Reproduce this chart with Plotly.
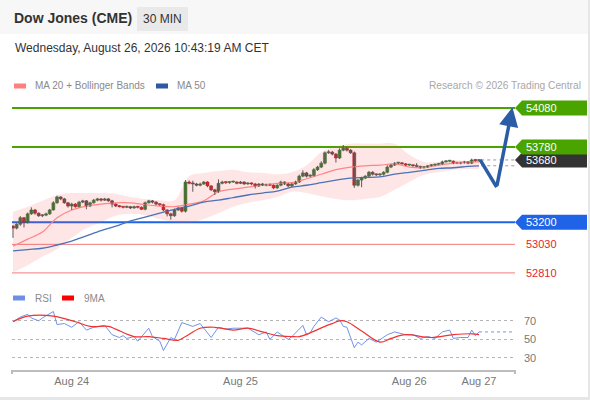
import plotly.graph_objects as go

W, H = 590, 400
FONT = "Liberation Sans, Arial, sans-serif"

# ─── Data ─────────────────────────────────────────────────────────────────────
# 30-minute candles, index 0 = first visible bar
CLOSE = [
    53155, 53185, 53235, 53200, 53265, 53295, 53270, 53250, 53255, 53265,
    53295, 53350, 53395, 53380, 53350, 53325, 53340, 53320, 53355, 53365,
    53325, 53350, 53370, 53380, 53370, 53380, 53365, 53340, 53325, 53320,
    53315, 53320, 53310, 53320, 53315, 53300, 53350, 53365, 53355, 53340,
    53335, 53295, 53265, 53250, 53295, 53310, 53285, 53510, 53500, 53495,
    53485, 53495, 53510, 53480, 53450, 53435, 53500, 53510, 53505, 53510,
    53510, 53500, 53510, 53495, 53500, 53495, 53480, 53495, 53485, 53490,
    53485, 53465, 53485, 53510, 53495, 53480, 53495, 53510, 53555, 53580,
    53555, 53560, 53605, 53625, 53655, 53735, 53740, 53725, 53695, 53755,
    53770, 53755, 53735, 53485, 53525, 53540, 53555, 53585, 53570, 53565,
    53570, 53585, 53625, 53640, 53655, 53655, 53650, 53640, 53640, 53635,
    53630, 53620, 53625, 53635, 53640, 53645, 53650, 53665, 53670, 53670,
    53655, 53655, 53658, 53665, 53655, 53680, 53675, 53680,
]
FIRST_OPEN = 53170
UP_WICK = [
    10, 8, 12, 6, 10, 20, 8, 6, 8, 10,
    8, 12, 10, 6, 8, 6, 10, 8, 10, 8,
    6, 8, 10, 8, 6, 8, 6, 8, 6, 8,
    6, 8, 6, 8, 6, 8, 10, 8, 6, 8,
    6, 8, 6, 8, 10, 8, 6, 15, 12, 20,
    8, 10, 8, 6, 6, 8, 30, 10, 8, 6,
    8, 6, 8, 6, 8, 6, 8, 6, 8, 6,
    8, 6, 8, 10, 6, 8, 8, 10, 12, 20,
    8, 10, 12, 10, 15, 10, 15, 10, 8, 15,
    25, 10, 8, 10, 8, 10, 8, 10, 8, 6,
    8, 8, 15, 10, 8, 6, 8, 6, 8, 6,
    20, 6, 8, 6, 8, 6, 8, 10, 10, 6,
    6, 8, 6, 8, 6, 10, 8, 6,
]
DN_WICK = [
    75, 10, 12, 40, 10, 8, 12, 8, 10, 8,
    8, 6, 8, 10, 8, 12, 30, 8, 6, 8,
    25, 8, 6, 8, 10, 6, 8, 25, 8, 6,
    8, 6, 8, 6, 8, 6, 8, 6, 10, 8,
    8, 10, 20, 30, 8, 8, 10, 10, 8, 60,
    8, 8, 8, 10, 10, 25, 8, 8, 10, 8,
    6, 8, 6, 8, 6, 10, 20, 8, 6, 8,
    6, 10, 8, 8, 8, 10, 8, 6, 8, 8,
    10, 8, 8, 10, 8, 10, 8, 10, 35, 8,
    8, 10, 8, 20, 10, 55, 8, 8, 10, 8,
    8, 10, 8, 8, 6, 8, 6, 8, 6, 8,
    6, 8, 6, 8, 6, 8, 6, 8, 6, 8,
    8, 6, 8, 6, 8, 6, 8, 6,
]

# indicators, sampled every 4 bars
IND_IDX = list(range(0, 128, 4)) + [127]
MA20 = [53015, 53070, 53125, 53235, 53295, 53325, 53340, 53350, 53350, 53335,
        53325, 53320, 53340, 53365, 53435, 53455, 53470, 53485, 53500, 53505,
        53535, 53570, 53605, 53625, 53635, 53640, 53650, 53625, 53620, 53640,
        53655, 53665, 53665]
BB_UP = [53280, 53320, 53365, 53410, 53425, 53425, 53425, 53420, 53395, 53380,
         53370, 53370, 53555, 53580, 53595, 53605, 53585, 53580, 53570, 53585,
         53640, 53740, 53785, 53805, 53805, 53805, 53805, 53720, 53665, 53665,
         53680, 53670, 53670]
BB_LO = [52815, 52870, 52935, 52995, 53080, 53155, 53200, 53250, 53265, 53255,
         53225, 53200, 53195, 53225, 53270, 53320, 53350, 53370, 53395, 53435,
         53425, 53400, 53380, 53370, 53380, 53395, 53450, 53510, 53565, 53585,
         53605, 53610, 53610]
MA50 = [52980, 52990, 53000, 53025, 53055, 53095, 53135, 53170, 53210, 53240,
        53270, 53300, 53325, 53355, 53370, 53390, 53410, 53425, 53440, 53470,
        53485, 53505, 53525, 53540, 53545, 53550, 53570, 53585, 53600, 53615,
        53620, 53630, 53635]

RSI_IDX = [0, 2, 4, 5, 7, 8, 11, 12, 14, 16, 18, 20, 22, 25, 27, 29, 30, 31, 33, 34,
           37, 38, 40, 41, 43, 44, 46, 49, 51, 54, 56, 58, 60, 64, 67, 69, 70, 72, 75, 76,
           79, 80, 81, 82, 84, 86, 88, 89, 90, 91, 93, 94, 95, 97, 98, 99, 102, 104, 107, 109,
           111, 113, 115, 117, 119, 120, 122, 124, 125, 126, 127]
RSI = [69, 74, 77, 73, 70, 73, 80, 66, 67, 63, 69, 60, 63, 65, 55, 52, 54, 51, 53, 48,
       62, 53, 48, 38, 52, 50, 68, 64, 67, 52, 63, 61, 62, 62, 55, 58, 50, 58, 50, 53,
       65, 55, 57, 64, 74, 69, 73, 71, 64, 63, 41, 47, 44, 51, 49, 47, 55, 58, 55, 55,
       51, 53, 51, 58, 60, 51, 52, 52, 60, 54, 58]
RSI_MA_IDX = [0, 4, 11, 17, 21, 26, 28, 33, 37, 41, 45, 47, 51, 55, 60, 64, 68, 72, 76, 78,
              81, 85, 87, 89, 91, 95, 100, 103, 107, 114, 120, 125, 127]
RSI_MA = [69, 75, 75, 69, 64, 64, 61, 53, 53, 51, 49, 53, 62, 63, 60, 62, 58, 54, 53, 53,
          57, 64, 67, 70, 69, 59, 47, 51, 55, 52, 55, 56, 55]

# key levels shown on the right
RESISTANCE = [54080, 53780]
LAST_PRICE = 53680
PIVOT = 53200
SUPPORT = [53030, 52810]

# forecast path (bar index, price)
FC_IDX = [127.3, 131.8, 136.1]
FC_PRICE = [53680, 53470, 54085]

DATE_TICKS = [16, 62, 108, 127]
DATE_LABELS = ["Aug 24", "Aug 25", "Aug 26", "Aug 27"]
RSI_TICKS = [30, 50, 70]

# ─── Helpers ──────────────────────────────────────────────────────────────────
def fx(px):
    return px / W


def fy(px):
    return 1 - px / H


GREEN_LVL = "#4aa400"
BLUE_LVL = "#1f63e6"
RED_LVL = "#f27a7a"
RED_TXT = "#e5262b"
UP_COL, UP_EDGE = "#35873a", "#1f5a22"
DOWN_COL, DOWN_EDGE = "#d8141f", "#8e0d12"

opens = [FIRST_OPEN] + CLOSE[:-1]
highs = [max(o, c) + u for o, c, u in zip(opens, CLOSE, UP_WICK)]
lows = [min(o, c) - d for o, c, d in zip(opens, CLOSE, DN_WICK)]
bars = list(range(len(CLOSE)))
is_up = [c >= o for o, c in zip(opens, CLOSE)]

fig = go.Figure()

# Bollinger band fill
fig.add_trace(go.Scatter(x=IND_IDX, y=BB_UP, mode="lines", line=dict(width=0, shape="spline"),
                         hoverinfo="skip", showlegend=False))
fig.add_trace(go.Scatter(x=IND_IDX, y=BB_LO, mode="lines", line=dict(width=0, shape="spline"),
                         fill="tonexty", fillcolor="rgba(255,80,80,0.14)",
                         hoverinfo="skip", showlegend=False))
fig.add_trace(go.Scatter(x=IND_IDX, y=MA20, mode="lines",
                         line=dict(color="#ff8585", width=1.2, shape="spline"),
                         hoverinfo="skip", showlegend=False))
fig.add_trace(go.Scatter(x=IND_IDX, y=MA50, mode="lines",
                         line=dict(color="#4a72b8", width=1.3, shape="spline"),
                         hoverinfo="skip", showlegend=False))

# candles: wicks as segments, bodies as floating bars
wx, wy = [], []
for i, lo, hi in zip(bars, lows, highs):
    wx += [i, i, None]
    wy += [lo, hi, None]
fig.add_trace(go.Scatter(x=wx, y=wy, mode="lines", line=dict(color="#5a5a5a", width=1),
                         hoverinfo="skip", showlegend=False))
fig.add_trace(go.Bar(
    x=bars,
    y=[max(abs(c - o), 8) for o, c in zip(opens, CLOSE)],
    base=[min(o, c) for o, c in zip(opens, CLOSE)],
    width=0.8,
    marker=dict(color=[UP_COL if u else DOWN_COL for u in is_up],
                line=dict(color=[UP_EDGE if u else DOWN_EDGE for u in is_up], width=0.5)),
    hoverinfo="skip", showlegend=False,
))

# dotted extensions of last price and MA 50
fig.add_trace(go.Scatter(x=[bars[-1] + 0.6, 136.8], y=[CLOSE[-1], CLOSE[-1]], mode="lines",
                         line=dict(color="#9a9a9a", width=1, dash="dot"),
                         hoverinfo="skip", showlegend=False))
fig.add_trace(go.Scatter(x=[bars[-1] + 0.6, 136.8], y=[MA50[-1], MA50[-1]], mode="lines",
                         line=dict(color="#9a9a9a", width=1, dash="dot"),
                         hoverinfo="skip", showlegend=False))

# forecast arrow
fig.add_trace(go.Scatter(x=FC_IDX[:2], y=FC_PRICE[:2], mode="lines",
                         line=dict(color="#2b5da6", width=3.5),
                         hoverinfo="skip", showlegend=False))

# RSI panel
fig.add_trace(go.Scatter(x=RSI_IDX, y=RSI, mode="lines", xaxis="x2", yaxis="y2",
                         line=dict(color="#7393e8", width=1),
                         hoverinfo="skip", showlegend=False))
fig.add_trace(go.Scatter(x=RSI_MA_IDX, y=RSI_MA, mode="lines", xaxis="x2", yaxis="y2",
                         line=dict(color="#f03232", width=1.2, shape="spline"),
                         hoverinfo="skip", showlegend=False))
fig.add_trace(go.Scatter(x=[RSI_IDX[-1], 136.8], y=[RSI[-1], RSI[-1]], mode="lines",
                         xaxis="x2", yaxis="y2",
                         line=dict(color="#7393e8", width=1, dash="dot"),
                         hoverinfo="skip", showlegend=False))

shapes = []
annotations = []

# header strip and page frame
shapes.append(dict(type="rect", xref="paper", yref="paper", x0=0, x1=1, y0=fy(34), y1=1,
                   fillcolor="#f7f7f7", line_width=0, layer="below"))
shapes.append(dict(type="line", xref="paper", yref="paper", x0=fx(589), x1=fx(589),
                   y0=0, y1=1, line=dict(color="#e6e6e6", width=2)))
shapes.append(dict(type="line", xref="paper", yref="paper", x0=0, x1=1,
                   y0=fy(398.5), y1=fy(398.5), line=dict(color="#e6e6e6", width=3)))
shapes.append(dict(type="rect", xref="paper", yref="paper", x0=fx(137), x1=fx(188),
                   y0=fy(31), y1=fy(7), fillcolor="#e9e9e9", line_width=0, layer="below"))
annotations.append(dict(xref="paper", yref="paper", x=fx(12), y=fy(18), xanchor="left",
                        yanchor="middle", showarrow=False, text="<b>Dow Jones (CME)</b>",
                        font=dict(size=14, color="#333333")))
annotations.append(dict(xref="paper", yref="paper", x=fx(162.5), y=fy(19), xanchor="center",
                        yanchor="middle", showarrow=False, text="30 MIN",
                        font=dict(size=12, color="#333333")))
annotations.append(dict(xref="paper", yref="paper", x=fx(13), y=fy(48), xanchor="left",
                        yanchor="middle", showarrow=False,
                        text="Wednesday, August 26, 2026 10:43:19 AM CET",
                        font=dict(size=12, color="#333333")))

# legends
for x0, col in [(14, "#ff8080"), (156, "#2d5aa0")]:
    shapes.append(dict(type="rect", xref="paper", yref="paper", x0=fx(x0), x1=fx(x0 + 12),
                       y0=fy(88.5), y1=fy(83.5), fillcolor=col, line_width=0))
for x0, txt in [(33, "MA 20 + Bollinger Bands"), (175, "MA 50")]:
    annotations.append(dict(xref="paper", yref="paper", x=fx(x0), y=fy(86), xanchor="left",
                            yanchor="middle", showarrow=False, text=txt,
                            font=dict(size=10, color="#8a8a8a")))
annotations.append(dict(xref="paper", yref="paper", x=fx(583), y=fy(86), xanchor="right",
                        yanchor="middle", showarrow=False,
                        text="Research © 2026 Trading Central",
                        font=dict(size=10.2, color="#a8a8a8")))
for x0, col in [(13, "#6d8fe6"), (62, "#ff0000")]:
    shapes.append(dict(type="rect", xref="paper", yref="paper", x0=fx(x0), x1=fx(x0 + 12),
                       y0=fy(300.5), y1=fy(295.5), fillcolor=col, line_width=0))
for x0, txt in [(33, "RSI"), (82, "9MA")]:
    annotations.append(dict(xref="paper", yref="paper", x=fx(x0), y=fy(298), xanchor="left",
                            yanchor="middle", showarrow=False, text=txt,
                            font=dict(size=10, color="#8a8a8a")))

# level lines and tags
def level_line(level, color, width):
    shapes.append(dict(type="line", xref="paper", yref="y", x0=fx(12), x1=fx(515),
                       y0=level, y1=level, line=dict(color=color, width=width), layer="below"))


def tag(level, color):
    half = 58
    path = (f"M {fx(515)},{level} L {fx(522)},{level + half} L {fx(587)},{level + half} "
            f"L {fx(587)},{level - half} L {fx(522)},{level - half} Z")
    shapes.append(dict(type="path", xref="paper", yref="y", path=path, fillcolor=color,
                       line_width=0, layer="above"))
    annotations.append(dict(xref="paper", yref="y", x=fx(524), y=level, xanchor="left",
                            yanchor="middle", showarrow=False, text=str(level),
                            font=dict(size=11, color="white")))


for lv in RESISTANCE:
    level_line(lv, GREEN_LVL, 2)
level_line(PIVOT, BLUE_LVL, 2)
for lv in SUPPORT:
    level_line(lv, RED_LVL, 1)
    annotations.append(dict(xref="paper", yref="y", x=fx(524), y=lv, xanchor="left",
                            yanchor="middle", showarrow=False, text=str(lv),
                            font=dict(size=11, color=RED_TXT)))

tag(LAST_PRICE, "#333333")
for lv in RESISTANCE:
    tag(lv, GREEN_LVL)
tag(PIVOT, BLUE_LVL)

# forecast arrowhead segment
annotations.append(dict(x=FC_IDX[2], y=FC_PRICE[2], ax=FC_IDX[1], ay=FC_PRICE[1],
                        xref="x", yref="y", axref="x", ayref="y", showarrow=True,
                        arrowhead=2, arrowsize=1.1, arrowwidth=3.5, arrowcolor="#2b5da6",
                        text=""))

# x axis end ticks
for xp in (12, 515):
    shapes.append(dict(type="line", xref="paper", yref="paper", x0=fx(xp), x1=fx(xp),
                       y0=fy(370), y1=fy(374), line=dict(color="#bdbdbd", width=2)))

XR = [-0.27, 136.8]
fig.update_layout(
    width=W, height=H,
    margin=dict(l=0, r=0, t=0, b=0),
    paper_bgcolor="white", plot_bgcolor="rgba(0,0,0,0)",
    font=dict(family=FONT, color="#666666"),
    showlegend=False,
    shapes=shapes, annotations=annotations,
    xaxis=dict(domain=[fx(12), fx(515)], range=XR, anchor="y", visible=False,
               fixedrange=True),
    yaxis=dict(domain=[fy(285), fy(95)], range=[52717, 54180], visible=False),
    xaxis2=dict(domain=[fx(12), fx(515)], range=XR, anchor="y2", matches="x",
                showline=True, linecolor="#bdbdbd", linewidth=2, showgrid=False,
                zeroline=False, ticks="", tickvals=DATE_TICKS, ticktext=DATE_LABELS,
                tickfont=dict(size=11, color="#777777")),
    yaxis2=dict(domain=[fy(370), fy(305)], range=[17, 87], side="right", anchor="x2",
                tickvals=RSI_TICKS, showgrid=True, gridcolor="#b5b5b5", griddash="dot",
                gridwidth=1, zeroline=False, showline=False, ticks="",
                ticklabelstandoff=8, tickfont=dict(size=11, color="#777777")),
)

# the page body has a default 8px margin; drop it so the figure sits at (0, 0)
fig.write_html("out.html", config=dict(displayModeBar=False),
               post_script="document.body.style.margin='0';")
